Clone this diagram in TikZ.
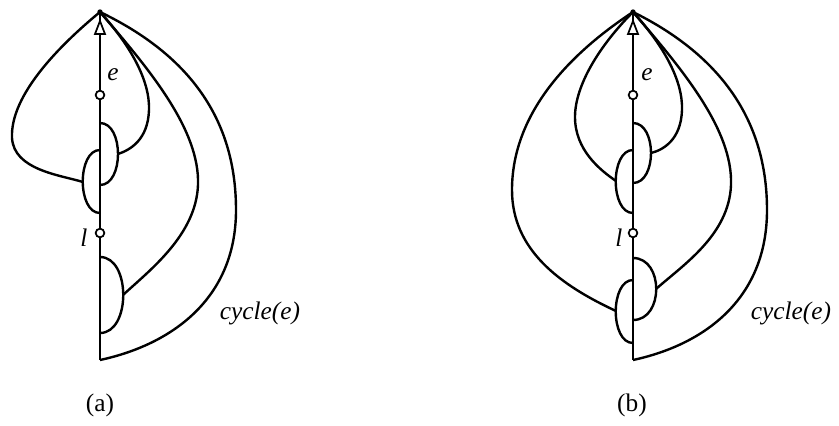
\documentclass[tikz,border=0pt]{standalone}
\usepackage{fontspec}
\setmainfont{Liberation Serif}
\begin{document}
\begin{tikzpicture}[x=0.75pt,y=-0.75pt,
  edge/.style={line width=1.8pt, line join=round},
  vtx/.style={circle, draw, fill=white, line width=1.3pt, inner sep=0pt, minimum size=6.5pt},
  arrowtri/.style={draw, fill=white, line width=1.3pt, line join=miter},
  lab/.style={font=\fontsize{19}{22}\selectfont\itshape, inner sep=0pt},
  captext/.style={font=\fontsize{19}{22}\selectfont, inner sep=0pt}]
\useasboundingbox (0,0) rectangle (839,425);

% ---------------- panel (a) ----------------
\coordinate (aT) at (100,12);
\coordinate (aB) at (100,360);
\coordinate (aR1) at (118,154);
\coordinate (aL1) at (83,182);
\coordinate (aR2) at (123,295);
\draw[edge] (aT) -- (aB);
\draw[edge] (100,123) .. controls (124,123) and (124,185) .. (100,185);
\draw[edge] (100,150) .. controls (77,150) and (77,213) .. (100,213);
\draw[edge] (100,257) .. controls (131,257) and (131,333) .. (100,333);
\draw[edge] (aT) .. controls (130,45) and (150,80) .. (149,110) .. controls (148,140) and (130,150) .. (aR1);
\draw[edge] (aT) .. controls (60,45) and (10,95) .. (12,138) .. controls (14,170) and (60,175) .. (aL1);
\draw[edge] (aT) .. controls (150,70) and (200,130) .. (198,185) .. controls (196,235) and (150,270) .. (aR2);
\draw[edge] (aT) .. controls (200,60) and (236,130) .. (236,210) .. controls (236,300) and (170,345) .. (aB);
\fill (aT) circle (2pt);
\draw[arrowtri] (100,21) -- (105,34) -- (95,34) -- cycle;
\node[vtx] (ae) at (100,95) {};
\node[vtx] (al) at (100,233) {};
\node[lab] (aet) at (113,75) {e};
\node[lab] (alt) at (84,238) {l};
\node[lab] (acy) at (260,313) {cycle(e)};
\node[captext] (acap) at (100,405) {(a)};

% ---------------- panel (b) ----------------
\coordinate (bT) at (633,12);
\coordinate (bB) at (633,360);
\coordinate (bR1) at (651,153);
\coordinate (bL1) at (616,181);
\coordinate (bR2) at (656,289);
\coordinate (bL2) at (616,311);
\draw[edge] (bT) -- (bB);
\draw[edge] (633,123) .. controls (657,123) and (657,183) .. (633,183);
\draw[edge] (633,150) .. controls (610,150) and (610,213) .. (633,213);
\draw[edge] (633,258) .. controls (664,258) and (664,320) .. (633,320);
\draw[edge] (633,280) .. controls (610,280) and (610,343) .. (633,343);
\draw[edge] (bT) .. controls (663,45) and (683,80) .. (682,110) .. controls (681,140) and (663,150) .. (bR1);
\draw[edge] (bT) .. controls (600,45) and (575,85) .. (575,117) .. controls (575,150) and (600,170) .. (bL1);
\draw[edge] (bT) .. controls (683,70) and (733,130) .. (731,185) .. controls (729,235) and (683,265) .. (bR2);
\draw[edge] (bT) .. controls (560,60) and (512,120) .. (512,190) .. controls (512,250) and (560,285) .. (bL2);
\draw[edge] (bT) .. controls (730,60) and (767,130) .. (767,210) .. controls (767,300) and (703,345) .. (bB);
\fill (bT) circle (2pt);
\draw[arrowtri] (633,21) -- (638,34) -- (628,34) -- cycle;
\node[vtx] (be) at (633,95) {};
\node[vtx] (bl) at (633,233) {};
\node[lab] (bet) at (647,75) {e};
\node[lab] (blt) at (619,238) {l};
\node[lab] (bcy) at (791,313) {cycle(e)};
\node[captext] (bcap) at (632,405) {(b)};
\end{tikzpicture}
\end{document}
